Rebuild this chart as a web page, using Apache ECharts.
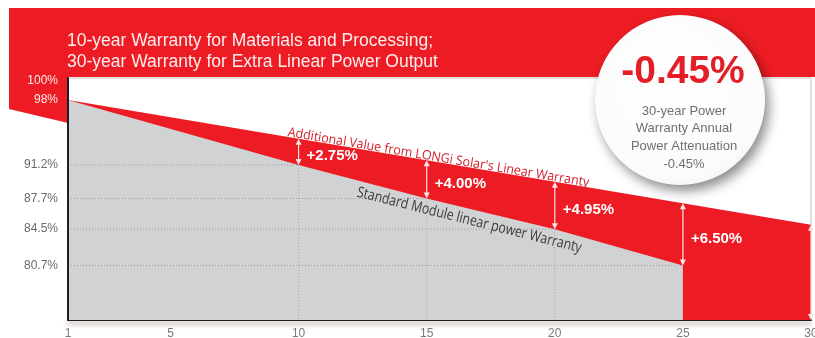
<!DOCTYPE html>
<html>
<head>
<meta charset="utf-8">
<script src="https://cdn.jsdelivr.net/npm/echarts@6/dist/echarts.min.js"></script>
<style>
  html, body { margin: 0; padding: 0; background: #fff; }
  #chart { width: 815px; height: 338px; }
</style>
</head>
<body>
<div id="chart"></div>
<script>
// Axis ticks
const xTickLabels = [1, 5, 10, 15, 20, 25, 30];
const yTickLabels = [100, 98, 91.2, 87.7, 84.5, 80.7];
const yMin = 75;

// LONGi 30-year linear warranty (% of nameplate power)
const longiYears = [1, 10, 15, 20, 25, 30];
const longiValues = [98, 93.95, 91.7, 89.45, 87.2, 84.95];

// Standard module linear warranty, ends at year 25
const standardYears = [1, 10, 15, 20, 25];
const standardValues = [98, 91.2, 87.7, 84.5, 80.7];

// Extra value of the LONGi warranty over the standard one
const gainYears = [10, 15, 20, 25];
const gainValues = [2.75, 4.00, 4.95, 6.50];

const annualAttenuation = -0.45;

const titleLines = [
  '10-year Warranty for Materials and Processing;',
  '30-year Warranty for Extra Linear Power Output'
];
const badgeLines = ['30-year Power', 'Warranty Annual', 'Power Attenuation', annualAttenuation.toFixed(2) + '%'];
const longiCaption = "Additional Value from LONGi Solar's Linear Warranty";
const standardCaption = 'Standard Module linear power Warranty';

const RED = '#ed1c24';
const GRAY_FILL = '#d1d2d4';

const chart = echarts.init(document.getElementById('chart'), null, { renderer: 'canvas' });

function pairs(xs, ys) { return xs.map((x, i) => [x, ys[i]]); }

// linear interpolation on a polyline in data space (used to place captions)
function valueAt(xs, ys, x) {
  for (let i = 0; i < xs.length - 1; i++) {
    if (x >= xs[i] && x <= xs[i + 1]) {
      const t = (x - xs[i]) / (xs[i + 1] - xs[i]);
      return ys[i] + t * (ys[i + 1] - ys[i]);
    }
  }
  return ys[ys.length - 1];
}

// arrows: [year, low, high]
const arrowData = gainYears.map((yr, i) => {
  const base = standardValues[standardYears.indexOf(yr)];
  return [yr, base, base + gainValues[i]];
});
arrowData.push([30, yMin, longiValues[longiValues.length - 1]]);
const arrowLabels = gainValues.map(v => '+' + v.toFixed(2) + '%');

// captions that follow a line
const captions = [
  { text: longiCaption, xs: longiYears, ys: longiValues, at: 9.55, from: 1, to: 30,
    size: 13, color: '#d3212b', scaleX: 0.96, below: false, dy: 2 },
  { text: standardCaption, xs: standardYears, ys: standardValues, at: 12.4, from: 10, to: 20,
    size: 15, color: '#3b3b3b', scaleX: 0.82, below: true, dy: 4 }
];

const option = {
  animation: false,
  backgroundColor: '#fff',
  grid: {
    left: 68, right: 4, top: 78, bottom: 18,
    outerBoundsMode: 'none', containLabel: false,
    show: true, borderColor: '#c4c4c4', borderWidth: 1, backgroundColor: 'transparent'
  },
  xAxis: {
    type: 'value', min: 1, max: 30,
    axisLine: { show: true, lineStyle: { color: '#1e1e1e', width: 2,
      shadowColor: 'rgba(90,50,40,0.55)', shadowBlur: 5, shadowOffsetY: 3 } },
    axisTick: { show: false },
    splitLine: { show: false },
    axisLabel: { customValues: xTickLabels, color: '#7a7a7a', fontSize: 12,
      fontFamily: 'Liberation Sans', margin: 8, hideOverlap: false }
  },
  yAxis: {
    type: 'value', min: yMin, max: 100.3, z: 10,
    axisLine: { show: true, lineStyle: { color: '#1e1e1e', width: 2 } },
    axisTick: { show: false },
    splitLine: { show: false },
    axisLabel: {
      customValues: yTickLabels, fontSize: 12, fontFamily: 'Liberation Sans', margin: 10,
      formatter: v => v + '%',
      color: v => (v >= 98 ? '#fde9e9' : '#6a6a6a')
    }
  },
  series: [
    {
      name: 'LONGi warranty', type: 'line', data: pairs(longiYears, longiValues),
      symbol: 'none', z: 1, lineStyle: { width: 0 },
      areaStyle: { color: RED, opacity: 1, origin: 'start' }
    },
    {
      name: 'Standard warranty', type: 'line', data: pairs(standardYears, standardValues),
      symbol: 'none', z: 2, lineStyle: { width: 0 },
      areaStyle: { color: GRAY_FILL, opacity: 1, origin: 'start' }
    },
    {
      // dotted guide lines inside the standard-warranty area
      name: 'guides', type: 'custom', z: 3, silent: true,
      data: pairs(standardYears.slice(1), standardValues.slice(1)),
      renderItem(params, api) {
        const yr = api.value(0), v = api.value(1);
        const a = api.coord([1, v]), b = api.coord([yr, v]);
        const children = [{
          type: 'line', shape: { x1: a[0], y1: a[1], x2: b[0], y2: b[1] },
          style: { stroke: '#9d9d9d', lineWidth: 1, lineDash: [1, 2] }
        }];
        if (yr < standardYears[standardYears.length - 1]) {
          const c = api.coord([yr, yMin]);
          children.push({
            type: 'line', shape: { x1: b[0], y1: b[1], x2: c[0], y2: c[1] },
            style: { stroke: '#a8a8a8', lineWidth: 1, lineDash: [1, 2] }
          });
        }
        return { type: 'group', children };
      }
    },
    {
      // double-headed arrows with the gain labels
      name: 'gains', type: 'custom', z: 4, silent: true,
      data: arrowData,
      renderItem(params, api) {
        const yr = api.value(0);
        const lo = api.coord([yr, api.value(1)]);
        const hi = api.coord([yr, api.value(2)]);
        const x = lo[0], y1 = lo[1], y2 = hi[1];
        const col = '#fde4e4';
        const children = [
          { type: 'line', shape: { x1: x, y1: y1 - 4, x2: x, y2: y2 + 4 },
            style: { stroke: col, lineWidth: 1.2 } },
          { type: 'polygon', shape: { points: [[x, y2], [x - 3, y2 + 6], [x + 3, y2 + 6]] },
            style: { fill: col } },
          { type: 'polygon', shape: { points: [[x, y1], [x - 3, y1 - 6], [x + 3, y1 - 6]] },
            style: { fill: col } }
        ];
        const label = arrowLabels[params.dataIndex];
        if (label) {
          children.push({
            type: 'text', x: x + 8, y: (y1 + y2) / 2 + 4,
            style: { text: label, fill: '#ffffff', font: 'bold 15px "Liberation Sans"',
              align: 'left', verticalAlign: 'middle' }
          });
        }
        return { type: 'group', children };
      }
    },
    {
      // captions running along the two warranty lines
      name: 'captions', type: 'custom', z: 5, silent: true,
      data: captions.map((c, i) => [c.at, valueAt(c.xs, c.ys, c.at), i]),
      renderItem(params, api) {
        const c = captions[params.dataIndex];
        const p = api.coord([api.value(0), api.value(1)]);
        const a = api.coord([c.from, valueAt(c.xs, c.ys, c.from)]);
        const b = api.coord([c.to, valueAt(c.xs, c.ys, c.to)]);
        const ang = Math.atan2(b[1] - a[1], b[0] - a[0]);
        return {
          type: 'text', x: p[0], y: p[1], rotation: -ang, scaleX: c.scaleX,
          style: {
            text: c.text, fill: c.color,
            font: c.size + 'px "Open Sans"',
            align: 'left', verticalAlign: c.below ? 'top' : 'bottom',
            y: c.dy
          }
        };
      }
    }
  ],
  graphic: [
    { type: 'rect', z: 0, shape: { x: 9, y: 8, width: 806, height: 69 }, style: { fill: RED } },
    { type: 'polygon', z: 0, shape: { points: [[9, 76], [68, 76], [68, 123], [9, 109]] }, style: { fill: RED } },
    { type: 'text', z: 1, x: 67, y: 41,
      style: { text: titleLines[0], fill: '#fdeeee', font: '17.5px "Liberation Sans"', verticalAlign: 'middle' } },
    { type: 'text', z: 1, x: 67, y: 62,
      style: { text: titleLines[1], fill: '#fdeeee', font: '17.5px "Liberation Sans"', verticalAlign: 'middle' } },
    { type: 'circle', z: 100, shape: { cx: 680, cy: 100, r: 85 },
      style: {
        fill: new echarts.graphic.RadialGradient(0.45, 0.4, 0.7, [
          { offset: 0, color: '#ffffff' }, { offset: 0.8, color: '#fbfbfb' }, { offset: 1, color: '#efefef' }
        ]),
        shadowColor: 'rgba(0,0,0,0.45)', shadowBlur: 12, shadowOffsetX: 4, shadowOffsetY: 6
      } },
    { type: 'text', z: 101, x: 683, y: 72,
      style: { text: annualAttenuation.toFixed(2) + '%', fill: '#e31e26',
        font: 'bold 39px "Liberation Sans"', align: 'center', verticalAlign: 'middle' } },
    ...badgeLines.map((t, i) => ({
      type: 'text', z: 101, x: 684, y: 111 + i * 17.7,
      style: { text: t, fill: '#707070', font: '13px "Liberation Sans"', align: 'center', verticalAlign: 'middle' }
    }))
  ]
};

chart.setOption(option);
</script>
</body>
</html>
